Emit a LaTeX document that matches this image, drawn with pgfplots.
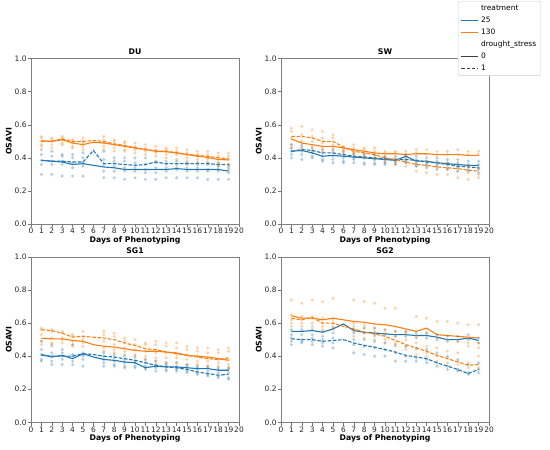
\documentclass[border=0pt]{standalone}
\usepackage{fontspec}
\setmainfont{DejaVu Sans}
\usepackage{pgfplots}
\usepackage{pgfplotstable}
\pgfplotsset{compat=1.18}
\definecolor{tabblue}{HTML}{1F77B4}
\definecolor{taborange}{HTML}{FF7F0E}

% ---------- mean lines: d, 25/0, 25/1, 130/0, 130/1 ----------
\pgfplotstableread{
d b0 b1 o0 o1
1 0.385 0.385 0.504 0.500
2 0.380 0.380 0.500 0.500
3 0.375 0.380 0.510 0.515
4 0.360 0.375 0.490 0.500
5 0.365 0.375 0.480 0.500
6 0.355 0.445 0.495 0.505
7 0.345 0.365 0.490 0.500
8 0.340 0.365 0.480 0.485
9 0.330 0.360 0.470 0.475
10 0.330 0.355 0.460 0.462
11 0.330 0.360 0.450 0.452
12 0.330 0.375 0.440 0.442
13 0.330 0.365 0.437 0.440
14 0.335 0.365 0.430 0.432
15 0.330 0.365 0.420 0.422
16 0.330 0.365 0.410 0.415
17 0.330 0.365 0.402 0.410
18 0.330 0.360 0.390 0.400
19 0.320 0.360 0.388 0.395
}\DUl
\pgfplotstableread{
d b0 b1 o0 o1
1 0.440 0.440 0.515 0.530
2 0.445 0.450 0.490 0.530
3 0.430 0.445 0.480 0.520
4 0.410 0.430 0.470 0.500
5 0.415 0.430 0.470 0.500
6 0.410 0.420 0.460 0.465
7 0.405 0.410 0.450 0.440
8 0.400 0.405 0.440 0.430
9 0.395 0.400 0.430 0.420
10 0.390 0.395 0.425 0.400
11 0.385 0.390 0.425 0.390
12 0.410 0.390 0.420 0.375
13 0.380 0.385 0.425 0.360
14 0.380 0.375 0.425 0.355
15 0.370 0.370 0.420 0.345
16 0.365 0.360 0.420 0.340
17 0.360 0.350 0.420 0.335
18 0.355 0.345 0.415 0.325
19 0.355 0.340 0.415 0.320
}\SWl
\pgfplotstableread{
d b0 b1 o0 o1
1 0.410 0.405 0.508 0.560
2 0.395 0.400 0.505 0.555
3 0.405 0.400 0.505 0.540
4 0.385 0.400 0.495 0.515
5 0.415 0.415 0.490 0.520
6 0.395 0.410 0.470 0.515
7 0.380 0.400 0.460 0.510
8 0.375 0.395 0.455 0.500
9 0.365 0.385 0.445 0.480
10 0.360 0.375 0.435 0.465
11 0.330 0.360 0.430 0.445
12 0.340 0.345 0.430 0.440
13 0.335 0.335 0.425 0.425
14 0.335 0.330 0.420 0.415
15 0.330 0.320 0.405 0.405
16 0.325 0.305 0.400 0.395
17 0.325 0.295 0.395 0.385
18 0.315 0.285 0.385 0.380
19 0.315 0.290 0.375 0.390
}\SGal
\pgfplotstableread{
d b0 b1 o0 o1
1 0.550 0.505 0.645 0.630
2 0.550 0.500 0.630 0.620
3 0.555 0.500 0.630 0.635
4 0.545 0.490 0.620 0.600
5 0.565 0.495 0.630 0.600
6 0.595 0.500 0.620 0.580
7 0.555 0.480 0.610 0.565
8 0.545 0.465 0.605 0.545
9 0.540 0.455 0.595 0.535
10 0.535 0.440 0.590 0.520
11 0.530 0.425 0.580 0.495
12 0.530 0.405 0.565 0.470
13 0.525 0.395 0.550 0.450
14 0.525 0.385 0.570 0.430
15 0.515 0.360 0.530 0.405
16 0.500 0.340 0.525 0.385
17 0.500 0.320 0.520 0.365
18 0.510 0.295 0.515 0.345
19 0.495 0.320 0.510 0.350
}\SGbl

% ---------- individual observations ----------
\pgfplotstableread{
d o1 o2 o3 o4 o5 b1 b2 b3 b4 b5
1 0.53 0.52 0.50 0.48 0.47 0.45 0.42 0.385 0.36 0.30
2 0.52 0.51 0.50 0.48 0.46 0.44 0.41 0.38 0.36 0.30
3 0.53 0.52 0.51 0.49 0.48 0.42 0.41 0.38 0.36 0.29
4 0.51 0.50 0.49 0.47 0.46 0.42 0.40 0.37 0.34 0.29
5 0.52 0.50 0.49 0.47 0.45 0.43 0.40 0.37 0.35 0.29
6 nan nan nan nan nan nan nan nan nan nan
7 0.53 0.51 0.49 0.47 0.45 0.44 0.39 0.36 0.32 0.28
8 0.51 0.50 0.48 0.46 0.44 0.40 0.38 0.35 0.32 0.28
9 0.50 0.49 0.47 0.45 0.44 0.40 0.38 0.34 0.32 0.27
10 0.49 0.47 0.46 0.45 0.43 0.40 0.37 0.34 0.32 0.28
11 0.48 0.46 0.45 0.44 0.42 0.40 0.36 0.33 0.31 0.27
12 0.47 0.45 0.44 0.43 0.41 0.38 0.37 0.34 0.31 0.27
13 0.46 0.45 0.44 0.42 0.40 0.38 0.36 0.34 0.32 0.28
14 0.46 0.44 0.43 0.42 0.39 0.38 0.36 0.34 0.33 0.28
15 0.45 0.43 0.42 0.40 0.38 0.37 0.36 0.34 0.32 0.28
16 0.44 0.42 0.41 0.39 0.37 0.37 0.36 0.34 0.32 0.28
17 0.44 0.42 0.40 0.39 0.37 0.37 0.36 0.33 0.32 0.27
18 0.43 0.41 0.39 0.37 0.35 0.37 0.35 0.33 0.32 0.27
19 0.43 0.41 0.39 0.36 0.34 0.36 0.35 0.33 0.31 0.27
}\DUs
\pgfplotstableread{
d o1 o2 o3 o4 o5 b1 b2 b3 b4 b5
1 0.58 0.56 0.52 0.48 0.46 0.48 0.46 0.44 0.42 0.40
2 0.59 0.54 0.50 0.47 0.45 0.48 0.46 0.44 0.42 0.39
3 0.57 0.53 0.50 0.47 0.45 0.46 0.44 0.43 0.41 0.40
4 0.56 0.52 0.49 0.46 0.44 0.45 0.43 0.41 0.39 0.38
5 0.54 0.52 0.48 0.46 0.44 0.45 0.43 0.41 0.39 0.37
6 0.47 0.46 0.45 0.44 0.43 0.44 0.42 0.40 0.38 0.37
7 0.48 0.46 0.44 0.43 0.42 0.43 0.42 0.40 0.39 0.37
8 0.46 0.45 0.43 0.42 0.40 0.42 0.41 0.40 0.37 0.36
9 0.46 0.44 0.42 0.41 0.39 0.42 0.40 0.39 0.37 0.36
10 0.44 0.43 0.41 0.39 0.37 0.41 0.40 0.38 0.37 0.36
11 0.44 0.43 0.40 0.38 0.36 0.41 0.39 0.38 0.37 0.36
12 0.44 0.42 0.40 0.37 0.35 0.42 0.41 0.39 0.38 0.37
13 0.45 0.43 0.38 0.35 0.32 0.41 0.39 0.37 0.36 0.35
14 0.45 0.42 0.38 0.35 0.31 0.40 0.38 0.37 0.36 0.34
15 0.44 0.42 0.37 0.34 0.30 0.40 0.38 0.36 0.35 0.33
16 0.44 0.42 0.37 0.33 0.30 0.39 0.37 0.36 0.34 0.33
17 0.45 0.42 0.36 0.32 0.28 0.39 0.37 0.35 0.34 0.32
18 0.44 0.42 0.35 0.31 0.27 0.38 0.36 0.35 0.33 0.32
19 0.44 0.42 0.34 0.30 0.28 0.38 0.36 0.34 0.33 0.31
}\SWs
\pgfplotstableread{
d o1 o2 o3 o4 o5 b1 b2 b3 b4 b5
1 0.57 0.56 0.53 0.49 0.47 0.49 0.44 0.41 0.38 0.37
2 0.56 0.55 0.51 0.48 0.46 0.47 0.42 0.40 0.37 0.35
3 0.55 0.54 0.51 0.50 0.48 0.44 0.42 0.40 0.38 0.35
4 0.53 0.52 0.49 0.47 0.46 0.47 0.41 0.40 0.37 0.35
5 0.55 0.52 0.50 0.48 0.46 0.42 0.41 0.40 0.38 0.34
6 nan nan nan nan nan nan nan nan nan nan
7 0.55 0.53 0.49 0.45 0.43 0.42 0.40 0.38 0.36 0.34
8 0.54 0.52 0.47 0.44 0.42 0.41 0.39 0.37 0.35 0.34
9 0.51 0.49 0.45 0.43 0.41 0.40 0.38 0.36 0.34 0.33
10 0.50 0.47 0.44 0.41 0.39 0.40 0.37 0.36 0.34 0.33
11 0.48 0.47 0.43 0.40 0.38 0.38 0.36 0.34 0.33 0.32
12 0.49 0.47 0.42 0.39 0.37 0.37 0.35 0.34 0.33 0.31
13 0.48 0.46 0.42 0.39 0.36 0.36 0.35 0.34 0.32 0.31
14 0.48 0.45 0.41 0.39 0.36 0.36 0.34 0.33 0.32 0.31
15 0.46 0.44 0.41 0.38 0.35 0.35 0.34 0.33 0.31 0.30
16 0.45 0.43 0.40 0.37 0.35 0.34 0.33 0.32 0.30 0.29
17 0.45 0.42 0.39 0.37 0.34 0.34 0.33 0.31 0.29 0.28
18 0.44 0.42 0.38 0.36 0.34 0.33 0.32 0.30 0.28 0.27
19 0.45 0.43 0.38 0.35 0.33 0.33 0.32 0.30 0.27 0.26
}\SGas
\pgfplotstableread{
d o1 o2 o3 o4 o5 b1 b2 b3 b4 b5
1 0.74 0.65 0.62 0.60 0.58 0.56 0.53 0.51 0.49 0.47
2 0.72 0.64 0.62 0.60 0.58 0.56 0.53 0.50 0.49 0.48
3 0.74 0.64 0.63 0.60 0.58 0.56 0.53 0.51 0.49 0.47
4 0.73 0.63 0.60 0.58 0.56 0.55 0.52 0.50 0.48 0.46
5 0.75 0.62 0.60 0.58 0.56 0.57 0.54 0.51 0.48 0.45
6 nan nan nan nan nan nan nan nan nan nan
7 0.74 0.60 0.58 0.55 0.52 0.56 0.54 0.50 0.47 0.42
8 0.73 0.59 0.57 0.54 0.51 0.57 0.54 0.50 0.46 0.41
9 0.72 0.57 0.55 0.52 0.50 0.57 0.53 0.49 0.45 0.40
10 0.69 0.56 0.54 0.50 0.48 0.56 0.53 0.48 0.44 0.40
11 0.69 0.55 0.52 0.48 0.46 0.55 0.52 0.47 0.42 0.37
12 0.55 0.54 0.50 0.46 0.44 0.55 0.52 0.46 0.40 0.37
13 0.64 0.52 0.48 0.44 0.41 0.54 0.51 0.45 0.39 0.37
14 0.63 0.54 0.46 0.42 0.40 0.54 0.51 0.44 0.38 0.36
15 0.61 0.51 0.45 0.40 0.37 0.53 0.50 0.42 0.36 0.34
16 0.61 0.50 0.43 0.39 0.36 0.52 0.49 0.40 0.34 0.32
17 0.60 0.49 0.42 0.37 0.35 0.52 0.49 0.38 0.32 0.31
18 0.59 0.48 0.46 0.36 0.33 0.53 0.50 0.35 0.30 0.29
19 0.59 0.48 0.45 0.40 0.33 0.51 0.48 0.36 0.32 0.30
}\SGbs

\pgfplotsset{
  panel/.style={
    scale only axis, width=208bp, height=165.3bp, anchor=north west,
    xmin=0, xmax=20, ymin=0, ymax=1,
    xtick={0,...,20}, ytick={0,0.2,0.4,0.6,0.8,1.0},
    yticklabel style={/pgf/number format/.cd, fixed, fixed zerofill, precision=1},
    /pgf/number format/assume math mode=true,
    tick pos=left, tick align=outside, major tick length=3.2bp,
    every tick/.style={black!55, line width=0.6bp},
    axis line style={black!50, line width=0.7bp},
    tick label style={font=\fontsize{7.5}{8.5}\selectfont, text=black!85, inner sep=1bp},
    xlabel={Days of Phenotyping}, ylabel={OSAVI},
    label style={font=\bfseries\fontsize{7.8}{9}\selectfont, inner sep=0pt},
    xlabel style={at={(axis description cs:0.5,-0.0756)}, anchor=north},
    ylabel style={at={(axis description cs:-0.0913,0.5)}, anchor=south},
    every axis title shift=0pt,
    title style={font=\bfseries\fontsize{7.8}{9}\selectfont, at={(axis description cs:0.5,1.0212)}, anchor=south, inner sep=0pt},
  },
  scb/.style={only marks, mark=*, mark size=1.7bp, color=tabblue, mark options={draw opacity=0, fill opacity=0.35}, forget plot},
  sco/.style={only marks, mark=*, mark size=1.7bp, color=taborange, mark options={draw opacity=0, fill opacity=0.35}, forget plot},
  lsol/.style={line width=1.1bp, forget plot},
  ldash/.style={line width=1.1bp, dash pattern=on 3.6bp off 1.6bp, forget plot},
}

\newcommand{\drawpanel}[2]{%
  \pgfplotsinvokeforeach{1,2,3,4,5}{\addplot[scb] table[x=d,y=b##1]{#2};}%
  \pgfplotsinvokeforeach{1,2,3,4,5}{\addplot[sco] table[x=d,y=o##1]{#2};}%
  \addplot[lsol, tabblue] table[x=d,y=b0]{#1};
  \addplot[ldash, tabblue] table[x=d,y=b1]{#1};
  \addplot[lsol, taborange] table[x=d,y=o0]{#1};
  \addplot[ldash, taborange] table[x=d,y=o1]{#1};
}

\begin{document}
\begin{tikzpicture}
\useasboundingbox (0,0) rectangle (550bp,-450bp);

\begin{axis}[panel, at={(31bp,-58.7bp)}, title={DU}]
\drawpanel{\DUl}{\DUs}
\end{axis}

\begin{axis}[panel, at={(281bp,-58.7bp)}, title={SW},
  legend style={at={(0.851,1.349)}, anchor=north west, draw=black!20, rounded corners=1.5bp,
    font=\fontsize{7.5}{8.5}\selectfont, fill=white, inner xsep=2.5bp, inner ysep=1.8bp, row sep=1bp},
  legend cell align=left]
\drawpanel{\SWl}{\SWs}
\addlegendimage{empty legend}
\addlegendimage{draw=tabblue, line width=1.3bp}
\addlegendimage{draw=taborange, line width=1.3bp}
\addlegendimage{empty legend}
\addlegendimage{draw=black!75, line width=1.2bp}
\addlegendimage{draw=black!75, line width=1.2bp, dash pattern=on 3.6bp off 1.6bp}
\legend{treatment,25,130,drought\_stress,0,1}
\end{axis}

\begin{axis}[panel, at={(31bp,-257bp)}, title={SG1}]
\drawpanel{\SGal}{\SGas}
\end{axis}

\begin{axis}[panel, at={(281bp,-257bp)}, title={SG2}]
\drawpanel{\SGbl}{\SGbs}
\end{axis}
\end{tikzpicture}
\end{document}
